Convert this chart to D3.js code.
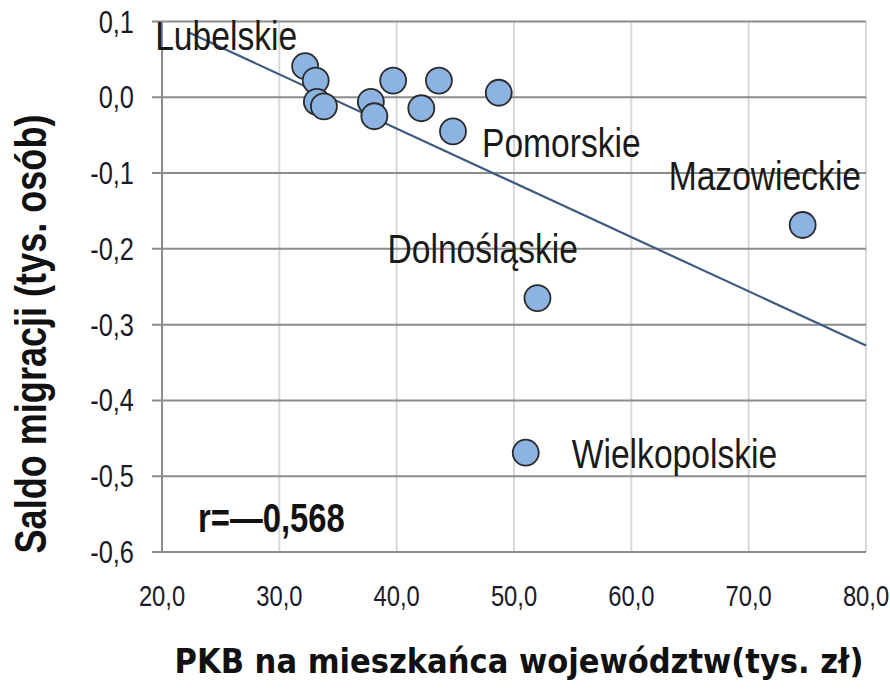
<!DOCTYPE html>
<html>
<head>
<meta charset="utf-8">
<script src="https://cdn.jsdelivr.net/npm/d3@7"></script>
<style>
    body { margin: 0; background: #fff; }
    svg text { font-family: "Liberation Sans", Arial, sans-serif; }
</style>
</head>
<body>
<svg width="890" height="691"></svg>
<script>
    // PKB per capita (tys. zł) vs saldo migracji (tys. osób)
    var pkb = [32.2, 33.1, 33.2, 33.8, 37.8, 38.1, 39.7, 42.1, 43.6, 44.8, 48.7, 52.0, 74.6, 51.0];
    var saldo = [0.041, 0.022, -0.006, -0.012, -0.006, -0.025, 0.022, -0.0145, 0.022, -0.045, 0.006, -0.265, -0.1685, -0.469];
    var names = ["Lubelskie", "", "", "", "", "", "", "", "", "Pomorskie", "", "Dolnośląskie", "Mazowieckie", "Wielkopolskie"];

    var xTicks = [20, 30, 40, 50, 60, 70, 80];
    var yTicks = [0.1, 0, -0.1, -0.2, -0.3, -0.4, -0.5, -0.6];
    var rLabel = "r=\u20140,568";

    var narrow = 0.82;   // Arial Narrow look: squeeze Liberation Sans horizontally

    var svg = d3.select("svg");
    svg.append("rect").attr("width", 890).attr("height", 691).attr("fill", "#fff");

    var x = d3.scaleLinear().domain([20, 80]).range([162, 866]);
    var y = d3.scaleLinear().domain([-0.6, 0.1]).range([552, 21.5]);

    function fmt(v) {
        return v.toFixed(1).replace(".", ",");
    }

    function squeeze(px, py, rot) {
        return "translate(" + px + "," + py + ")" + (rot ? " rotate(" + rot + ")" : "") + " scale(" + narrow + ",1)";
    }

    // vertical gridlines
    svg.append("g").selectAll("line")
        .data(xTicks.slice(1))
        .enter().append("line")
        .attr("x1", function (d) { return x(d); })
        .attr("x2", function (d) { return x(d); })
        .attr("y1", y(0.1))
        .attr("y2", y(-0.6))
        .style("stroke", "#d9d9d9")
        .style("stroke-width", 2);

    // horizontal gridlines + y ticks
    svg.append("g").selectAll("line")
        .data(yTicks)
        .enter().append("line")
        .attr("x1", x(20) - 10)
        .attr("x2", x(80))
        .attr("y1", function (d) { return y(d); })
        .attr("y2", function (d) { return y(d); })
        .style("stroke", "#8c8c8c")
        .style("stroke-width", 2);

    // y axis line
    svg.append("line")
        .attr("x1", x(20)).attr("x2", x(20))
        .attr("y1", y(0.1)).attr("y2", y(-0.6))
        .style("stroke", "#8c8c8c")
        .style("stroke-width", 2);

    // tick labels
    svg.append("g").selectAll("text")
        .data(yTicks)
        .enter().append("text")
        .attr("transform", function (d) { return squeeze(x(20) - 28, y(d) + 11); })
        .style("text-anchor", "end")
        .style("font-size", "31px")
        .style("fill", "#1a1a2a")
        .text(fmt);

    svg.append("g").selectAll("text")
        .data(xTicks)
        .enter().append("text")
        .attr("transform", function (d) { return squeeze(x(d), 606); })
        .style("text-anchor", "middle")
        .style("font-size", "29px")
        .style("fill", "#1a1a2a")
        .text(fmt);

    // trend line (least squares)
    var mx = d3.mean(pkb), my = d3.mean(saldo);
    var sxy = d3.sum(pkb, function (v, i) { return (v - mx) * (saldo[i] - my); });
    var sxx = d3.sum(pkb, function (v) { return (v - mx) * (v - mx); });
    var slope = sxy / sxx;
    var icpt = my - slope * mx;
    var trendX = [d3.min(pkb) - 10, 80];

    var line = d3.line()
        .x(function (d) { return x(d); })
        .y(function (d) { return y(icpt + slope * d); });

    svg.append("path")
        .datum(trendX)
        .attr("d", line)
        .style("fill", "none")
        .style("stroke", "#3f5a80")
        .style("stroke-width", 2.2);

    // points
    svg.append("g").selectAll("circle")
        .data(pkb)
        .enter().append("circle")
        .attr("cx", function (d) { return x(d); })
        .attr("cy", function (d, i) { return y(saldo[i]); })
        .attr("r", 13)
        .style("fill", "#8db3e2")
        .style("stroke", "#2b2b2b")
        .style("stroke-width", 1.8);

    // point labels
    var offsets = {
        "Lubelskie": [-150, -16],
        "Pomorskie": [29, 26],
        "Mazowieckie": [-134, -35],
        "Dolnośląskie": [-150, -35],
        "Wielkopolskie": [46, 15]
    };
    svg.append("g").selectAll("text")
        .data(names.map(function (n, i) { return {n: n, i: i}; }).filter(function (d) { return d.n; }))
        .enter().append("text")
        .attr("transform", function (d) {
            return squeeze(x(pkb[d.i]) + offsets[d.n][0], y(saldo[d.i]) + offsets[d.n][1]);
        })
        .style("font-size", "41px")
        .style("fill", "#1a1a1a")
        .text(function (d) { return d.n; });

    svg.append("text")
        .attr("transform", squeeze(198, 532))
        .style("font-size", "40px")
        .style("font-weight", "bold")
        .style("fill", "#111")
        .text(rLabel);

    // axis titles
    svg.append("text")
        .attr("transform", squeeze(46, 334, -90))
        .style("text-anchor", "middle")
        .style("font-size", "44px")
        .style("font-weight", "bold")
        .style("fill", "#111")
        .text("Saldo migracji (tys. osób)");

    svg.append("text")
        .attr("x", 519)
        .attr("y", 673)
        .style("text-anchor", "middle")
        .style("font-family", "'DejaVu Sans Condensed', sans-serif")
        .style("font-size", "34px")
        .style("font-weight", "bold")
        .style("fill", "#111")
        .text("PKB na mieszkańca  województw(tys. zł)");
</script>
</body>
</html>
